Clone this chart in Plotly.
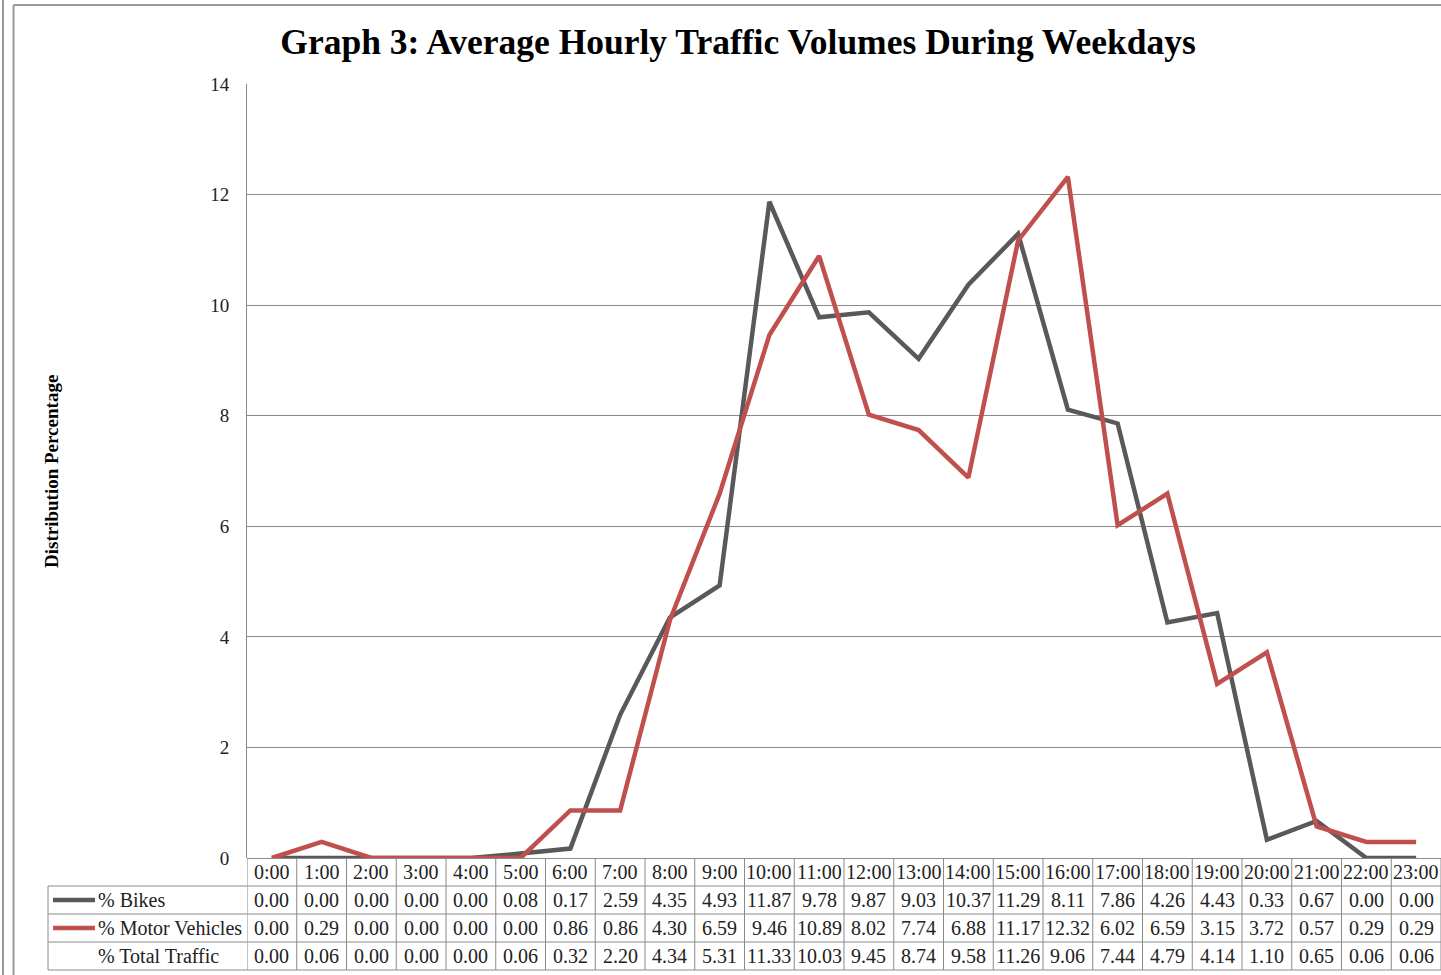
import plotly.graph_objects as go

W, H = 1441, 975

hours = ['0:00', '1:00', '2:00', '3:00', '4:00', '5:00', '6:00', '7:00', '8:00', '9:00', '10:00', '11:00',
         '12:00', '13:00', '14:00', '15:00', '16:00', '17:00', '18:00', '19:00', '20:00', '21:00', '22:00', '23:00']
bikes = [0.00, 0.00, 0.00, 0.00, 0.00, 0.08, 0.17, 2.59, 4.35, 4.93, 11.87, 9.78,
         9.87, 9.03, 10.37, 11.29, 8.11, 7.86, 4.26, 4.43, 0.33, 0.67, 0.00, 0.00]
motor = [0.00, 0.29, 0.00, 0.00, 0.00, 0.00, 0.86, 0.86, 4.30, 6.59, 9.46, 10.89,
         8.02, 7.74, 6.88, 11.17, 12.32, 6.02, 6.59, 3.15, 3.72, 0.57, 0.29, 0.29]
total = [0.00, 0.06, 0.00, 0.00, 0.00, 0.06, 0.32, 2.20, 4.34, 5.31, 11.33, 10.03,
         9.45, 8.74, 9.58, 11.26, 9.06, 7.44, 4.79, 4.14, 1.10, 0.65, 0.06, 0.06]
row_names = ['% Bikes', '% Motor Vehicles', '% Total Traffic']
row_colors = ['#595959', '#C0504D', None]

FONT = 'Liberation Serif'
GRID = '#8a8a8a'


def px(x):
    return x / W


def py(y):
    return 1 - y / H


x = list(range(len(hours)))

fig = go.Figure()
fig.add_trace(go.Scatter(x=x, y=bikes, mode='lines', name='% Bikes',
                         line=dict(color='#595959', width=4.5)))
fig.add_trace(go.Scatter(x=x, y=motor, mode='lines', name='% Motor Vehicles',
                         line=dict(color='#C0504D', width=4.5)))

shapes = []
annotations = []

# data table under the chart
row_y = [872, 900, 928, 956]
cell_font = dict(family=FONT, size=20, color='#222')
for i, h in enumerate(hours):
    annotations.append(dict(x=i, xref='x', y=py(row_y[0]), yref='paper', text=h, showarrow=False,
                            xanchor='center', yanchor='middle', font=cell_font))
    for r, vals in enumerate([bikes, motor, total]):
        annotations.append(dict(x=i, xref='x', y=py(row_y[r + 1]), yref='paper', text='%.2f' % vals[i],
                                showarrow=False, xanchor='center', yanchor='middle', font=cell_font))

for i in range(len(hours) + 1):
    shapes.append(dict(type='line', xref='x', yref='paper', x0=i - 0.5, x1=i - 0.5,
                       y0=py(858), y1=py(970), line=dict(color=GRID, width=1)))
for yy in [886, 914, 942, 970]:
    shapes.append(dict(type='line', xref='paper', yref='paper', x0=px(48), x1=1,
                       y0=py(yy), y1=py(yy), line=dict(color=GRID, width=1)))
shapes.append(dict(type='line', xref='paper', yref='paper', x0=px(48), x1=px(48),
                   y0=py(886), y1=py(970), line=dict(color=GRID, width=1)))

for r, name in enumerate(row_names):
    yc = py(row_y[r + 1])
    if row_colors[r]:
        shapes.append(dict(type='line', xref='paper', yref='paper', x0=px(53), x1=px(95),
                           y0=yc, y1=yc, line=dict(color=row_colors[r], width=4.5)))
    annotations.append(dict(x=px(96), xref='paper', y=yc, yref='paper', text=name, showarrow=False,
                            xanchor='left', yanchor='middle', font=cell_font))

# y axis title
annotations.append(dict(x=px(52), xref='paper', y=py(472), yref='paper', textangle=-90,
                        xanchor='center', yanchor='middle',
                        text='<b>Distribution Percentage</b>', showarrow=False,
                        font=dict(family=FONT, size=19, color='black')))

# outer frame
shapes += [
    dict(type='line', xref='paper', yref='paper', x0=px(3), x1=px(3), y0=0, y1=1,
         line=dict(color='#9a9a9a', width=2)),
    dict(type='line', xref='paper', yref='paper', x0=px(13.5), x1=px(13.5), y0=0, y1=py(5),
         line=dict(color='#9a9a9a', width=2)),
    dict(type='line', xref='paper', yref='paper', x0=px(13.5), x1=1, y0=py(5), y1=py(5),
         line=dict(color='#9a9a9a', width=2)),
]

fig.update_layout(
    template='none',
    width=W, height=H,
    margin=dict(l=0, r=0, t=0, b=0, autoexpand=False),
    paper_bgcolor='white', plot_bgcolor='white',
    showlegend=False,
    title=dict(text='<b>Graph 3: Average Hourly Traffic Volumes During Weekdays</b>',
               x=px(738), xanchor='center', y=py(42), yanchor='middle',
               font=dict(family=FONT, size=35.5, color='black')),
    xaxis=dict(domain=[px(247), 1], range=[-0.5, 23.5], showticklabels=False, showgrid=False,
               zeroline=False, showline=False, ticks='', automargin=False, fixedrange=True),
    yaxis=dict(domain=[py(858), py(84)], range=[0, 14], dtick=2, showgrid=True, gridcolor=GRID,
               gridwidth=1, zeroline=True, zerolinecolor=GRID, zerolinewidth=1,
               showline=True, linecolor=GRID, linewidth=1, ticks='', ticklabelstandoff=13,
               automargin=False, tickfont=dict(family=FONT, size=19, color='#222')),
    shapes=shapes,
    annotations=annotations,
)

fig.write_html('out.html', config={'displayModeBar': False},
               post_script="document.body.style.margin='0';")
